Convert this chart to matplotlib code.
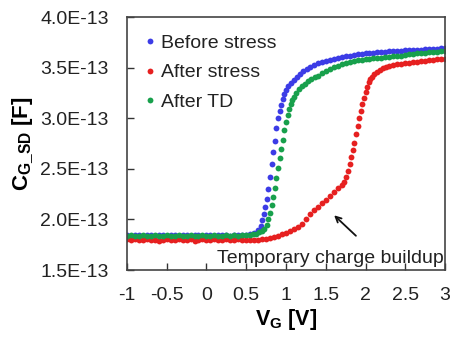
import matplotlib
matplotlib.use("Agg")
import matplotlib.pyplot as plt

plt.rcParams['font.family'] = ['Liberation Sans', 'DejaVu Sans']
plt.rcParams['mathtext.fontset'] = 'custom'
plt.rcParams['mathtext.rm'] = 'Liberation Sans'
plt.rcParams['mathtext.bf'] = 'Liberation Sans:bold'

# ---- data (C in units of 1e-13 F) ----
flat_v = [-1.00, -0.95, -0.90, -0.85, -0.80, -0.75, -0.70, -0.65, -0.60, -0.55,
          -0.50, -0.45, -0.40, -0.35, -0.30, -0.25, -0.20, -0.15, -0.10, -0.05,
          0.00, 0.05, 0.10, 0.15, 0.20, 0.25, 0.30, 0.35, 0.40, 0.45]

before_v = flat_v + [0.50, 0.55, 0.60, 0.65, 0.68, 0.70, 0.72, 0.74, 0.76, 0.78,
                     0.80, 0.82, 0.84, 0.86, 0.88, 0.90, 0.92, 0.94, 0.96, 0.98,
                     1.00, 1.03, 1.06, 1.10, 1.14, 1.18, 1.22, 1.26, 1.30, 1.35,
                     1.40, 1.45, 1.50, 1.55, 1.60, 1.65, 1.70, 1.75, 1.80, 1.85,
                     1.90, 1.95, 2.00, 2.05, 2.10, 2.15, 2.20, 2.25, 2.30, 2.35,
                     2.40, 2.45, 2.50, 2.55, 2.60, 2.65, 2.70, 2.75, 2.80, 2.85,
                     2.90, 2.95, 3.00]
before_c = [1.85, 1.84, 1.85, 1.85, 1.84, 1.85, 1.85, 1.84, 1.85, 1.85,
            1.84, 1.85, 1.85, 1.84, 1.85, 1.85, 1.84, 1.85, 1.85, 1.84,
            1.85, 1.85, 1.84, 1.85, 1.85, 1.85, 1.84, 1.85, 1.85, 1.85] + \
           [1.85, 1.855, 1.87, 1.90, 1.94, 1.99, 2.05, 2.12, 2.20, 2.30,
            2.42, 2.55, 2.67, 2.78, 2.90, 3.00, 3.07, 3.13, 3.19, 3.24,
            3.28, 3.32, 3.35, 3.38, 3.41, 3.44, 3.47, 3.49, 3.51, 3.53,
            3.545, 3.56, 3.57, 3.58, 3.59, 3.60, 3.61, 3.615, 3.62, 3.625,
            3.63, 3.635, 3.64, 3.64, 3.645, 3.65, 3.65, 3.655, 3.66, 3.66,
            3.66, 3.665, 3.67, 3.67, 3.67, 3.675, 3.675, 3.68, 3.68, 3.68,
            3.685, 3.69, 3.69]

after_stress_v = flat_v + [0.50, 0.55, 0.60, 0.65, 0.70, 0.75, 0.80, 0.85, 0.90, 0.95,
                           1.00, 1.05, 1.10, 1.15, 1.20, 1.25, 1.30, 1.35, 1.40, 1.45,
                           1.50, 1.55, 1.60, 1.65, 1.70, 1.73, 1.76, 1.78, 1.80, 1.82,
                           1.84, 1.86, 1.88, 1.90, 1.92, 1.94, 1.96, 1.98, 2.00, 2.02,
                           2.04, 2.06, 2.08, 2.11, 2.14, 2.18, 2.22, 2.26, 2.30, 2.35,
                           2.40, 2.45, 2.50, 2.55, 2.60, 2.65, 2.70, 2.75, 2.80, 2.85,
                           2.90, 2.95, 3.00]
after_stress_c = [1.81, 1.80, 1.81, 1.80, 1.80, 1.81, 1.80, 1.80, 1.79, 1.80,
                  1.81, 1.80, 1.80, 1.81, 1.80, 1.80, 1.81, 1.79, 1.80, 1.81,
                  1.80, 1.80, 1.81, 1.80, 1.80, 1.81, 1.80, 1.80, 1.81, 1.80] + \
                 [1.80, 1.80, 1.80, 1.80, 1.805, 1.81, 1.82, 1.83, 1.84, 1.855,
                  1.87, 1.89, 1.91, 1.93, 1.96, 2.00, 2.05, 2.09, 2.12, 2.16,
                  2.19, 2.23, 2.27, 2.31, 2.34, 2.37, 2.42, 2.48, 2.55, 2.62,
                  2.69, 2.76, 2.84, 2.92, 3.00, 3.07, 3.14, 3.20, 3.26, 3.31,
                  3.36, 3.39, 3.41, 3.44, 3.46, 3.48, 3.50, 3.51, 3.52, 3.53,
                  3.535, 3.54, 3.545, 3.55, 3.555, 3.56, 3.565, 3.57, 3.575, 3.58,
                  3.585, 3.59, 3.59]

after_td_v = flat_v + [0.50, 0.55, 0.58, 0.62, 0.66, 0.70, 0.73, 0.76, 0.78, 0.80,
                       0.82, 0.84, 0.86, 0.88, 0.90, 0.92, 0.94, 0.96, 0.98, 1.00,
                       1.02, 1.04, 1.06, 1.08, 1.10, 1.13, 1.16, 1.20, 1.24, 1.28,
                       1.32, 1.36, 1.40, 1.45, 1.50, 1.55, 1.60, 1.65, 1.70, 1.75,
                       1.80, 1.85, 1.90, 1.95, 2.00, 2.05, 2.10, 2.15, 2.20, 2.25,
                       2.30, 2.35, 2.40, 2.45, 2.50, 2.55, 2.60, 2.65, 2.70, 2.75,
                       2.80, 2.85, 2.90, 2.95, 3.00]
after_td_c = [1.84, 1.85, 1.84, 1.84, 1.85, 1.84, 1.84, 1.85, 1.84, 1.84,
              1.85, 1.84, 1.84, 1.85, 1.84, 1.84, 1.85, 1.84, 1.84, 1.85,
              1.84, 1.84, 1.85, 1.84, 1.84, 1.85, 1.84, 1.85, 1.84, 1.85] + \
             [1.85, 1.85, 1.855, 1.86, 1.875, 1.89, 1.91, 1.95, 2.00, 2.06,
              2.14, 2.22, 2.31, 2.41, 2.51, 2.61, 2.70, 2.79, 2.88, 2.96,
              3.03, 3.09, 3.14, 3.18, 3.21, 3.25, 3.29, 3.32, 3.34, 3.37,
              3.39, 3.41, 3.42, 3.45, 3.47, 3.49, 3.51, 3.52, 3.535, 3.545,
              3.555, 3.565, 3.575, 3.58, 3.585, 3.59, 3.595, 3.60, 3.60, 3.605,
              3.61, 3.615, 3.62, 3.62, 3.625, 3.63, 3.635, 3.64, 3.64, 3.645,
              3.65, 3.65, 3.655, 3.66, 3.66]

series_labels = ["Before stress", "After stress", "After TD"]
series_colors = ["#3c3ce6", "#e62020", "#18a04c"]

y_ticks = [1.5, 2.0, 2.5, 3.0, 3.5, 4.0]
y_ticklabels = ["1.5E-13", "2.0E-13", "2.5E-13", "3.0E-13", "3.5E-13", "4.0E-13"]
x_ticks = [-1, -0.5, 0, 0.5, 1, 1.5, 2, 2.5, 3]
x_ticklabels = ["-1", "-0.5", "0", "0.5", "1", "1.5", "2", "2.5", "3"]

annotation_text = "Temporary charge buildup"
arrow_head = (1.58, 2.06)
arrow_tail = (1.905, 1.82)

# ---- figure ----
fig = plt.figure(figsize=(4.5, 3.41), dpi=100)
ax = fig.add_axes([0.282, 0.208, 0.707, 0.742])

for v, c, lab, col in zip([before_v, after_stress_v, after_td_v],
                          [before_c, after_stress_c, after_td_c],
                          series_labels, series_colors):
    ax.plot(v, c, linestyle='none', marker='o', ms=4.2, mec='none', mfc=col, label=lab)

ax.set_xlim(-1, 3)
ax.set_ylim(1.5, 4.0)
ax.set_xticks(x_ticks)
ax.set_xticklabels(x_ticklabels)
ax.set_yticks(y_ticks)
ax.set_yticklabels(y_ticklabels)
ax.tick_params(direction='in', length=5, width=1, colors='#333333',
               labelsize=14, labelcolor='#222222')
ax.tick_params(axis='y', pad=13)
ax.tick_params(axis='x', pad=12)
for s in ax.spines.values():
    s.set_color('#444444')
    s.set_linewidth(1.2)

ax.set_xlabel(r'$\mathbf{V_G}$ [V]', fontsize=15.5, fontweight='bold', labelpad=2)
ax.set_ylabel(r'$\mathbf{C_{G\_SD}}$ [F]', fontsize=16, fontweight='bold', labelpad=3)

ax.annotate('', xy=arrow_head, xytext=arrow_tail,
            arrowprops=dict(arrowstyle='->', color='#111111', lw=1.3))
ax.text(0.995, 0.045, annotation_text, transform=ax.transAxes, ha='right', va='center',
        fontsize=14, color='#222222')

leg = ax.legend(loc='upper left', bbox_to_anchor=(0.0, 1.0), frameon=False,
                fontsize=14, handlelength=0.6, handletextpad=0.25,
                labelspacing=0.6, borderaxespad=0.5, markerscale=1.0)
for t in leg.get_texts():
    t.set_color('#222222')

fig.savefig('out.png', dpi=100)
